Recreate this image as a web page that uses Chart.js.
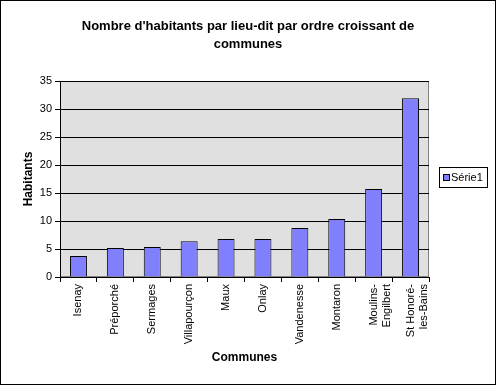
<!DOCTYPE html>
<html>
<head>
<meta charset="utf-8">
<script src="https://cdn.jsdelivr.net/npm/chart.js@4/dist/chart.umd.min.js"></script>
<style>
  body { margin: 0; background: #fff; }
  canvas { display: block; }
</style>
</head>
<body>
<canvas id="myChart" width="497" height="386"></canvas>
<script>
'use strict'

// data
let communes = ['Isenay', 'Préporché', 'Sermages', 'Villapourçon', 'Maux', 'Onlay',
  'Vandenesse', 'Montaron', ['Moulins-', 'Engilbert'], ['St Honoré-', 'les-Bains']]
let habitants = [3.75, 5.2, 5.35, 6.4, 6.8, 6.8, 8.75, 10.35, 15.7, 31.9]
let seriesName = 'Série1'
let chartTitle = ["Nombre d'habitants par lieu-dit par ordre croissant de", 'communes']
let yTitle = 'Habitants'
let xTitle = 'Communes'

const fontFam = '"Liberation Sans", Arial, sans-serif'
Chart.defaults.font.family = fontFam
Chart.defaults.color = '#000'

// white page, outer frame, grey plot area, title and legend
const framePlugin = {
  id: 'frame',
  beforeDraw(chart) {
    let ctx = chart.ctx
    let a = chart.chartArea
    ctx.save()
    ctx.fillStyle = '#fff'
    ctx.fillRect(0, 0, chart.width, chart.height)
    ctx.strokeStyle = '#000'
    ctx.lineWidth = 1
    ctx.strokeRect(0.5, 0.5, chart.width - 2, chart.height - 2)
    ctx.fillStyle = '#e0e0e0'
    ctx.fillRect(a.left, a.top, a.right - a.left, a.bottom - a.top)
    ctx.strokeStyle = '#808080'
    ctx.strokeRect(a.left + 0.5, a.top + 0.5, a.right - a.left - 1, a.bottom - a.top - 1)
    ctx.restore()
  },
  afterDraw(chart) {
    let ctx = chart.ctx
    ctx.save()
    // title, centred on the whole page
    ctx.fillStyle = '#000'
    ctx.font = 'bold 13px ' + fontFam
    ctx.textAlign = 'center'
    ctx.textBaseline = 'middle'
    chartTitle.forEach((t, i) => ctx.fillText(t, 248, 26 + i * 18))
    // legend box on the right
    ctx.textAlign = 'left'
    ctx.fillStyle = '#fff'
    ctx.fillRect(439, 167, 49, 21)
    ctx.strokeStyle = '#000'
    ctx.lineWidth = 1
    ctx.strokeRect(439.5, 167.5, 48, 20)
    ctx.fillStyle = '#8080ff'
    ctx.fillRect(443, 174, 6, 6)
    ctx.strokeRect(443.5, 174.5, 6, 6)
    ctx.fillStyle = '#000'
    ctx.font = '11px ' + fontFam
    ctx.fillText(seriesName, 451, 178)
    ctx.restore()
  }
}

let ctx = document.getElementById('myChart')
const myChart = new Chart(ctx, {
  type: 'bar',
  data: {
    labels: communes,
    datasets: [{
      label: seriesName,
      data: habitants,
      backgroundColor: '#8080ff',
      borderColor: '#000',
      borderWidth: 1,
      barPercentage: 0.46,
      categoryPercentage: 1
    }]
  },
  options: {
    responsive: false,
    animation: false,
    layout: { padding: { left: 0, right: 68, top: 81, bottom: 0 } },
    plugins: {
      legend: { display: false },
      tooltip: { enabled: false },
      title: { display: false }
    },
    scales: {
      x: {
        afterFit(scale) { scale.height = 109 },
        grid: { drawOnChartArea: false, color: '#000', tickLength: 5, offset: true },
        border: { color: '#000' },
        ticks: { minRotation: 90, maxRotation: 90, autoSkip: false, padding: 2, font: { size: 11 } },
        title: { display: true, text: xTitle, font: { size: 12, weight: 'bold' }, padding: { top: 0, bottom: 21 } }
      },
      y: {
        min: 0,
        max: 35,
        afterFit(scale) { scale.width = 60 },
        grid: { color: '#000', tickLength: 5 },
        border: { color: '#000' },
        ticks: { stepSize: 5, padding: 3, font: { size: 11 } },
        title: { display: true, text: yTitle, font: { size: 12, weight: 'bold' }, padding: { top: 21, bottom: 0 } }
      }
    }
  },
  plugins: [framePlugin]
})
</script>
</body>
</html>
